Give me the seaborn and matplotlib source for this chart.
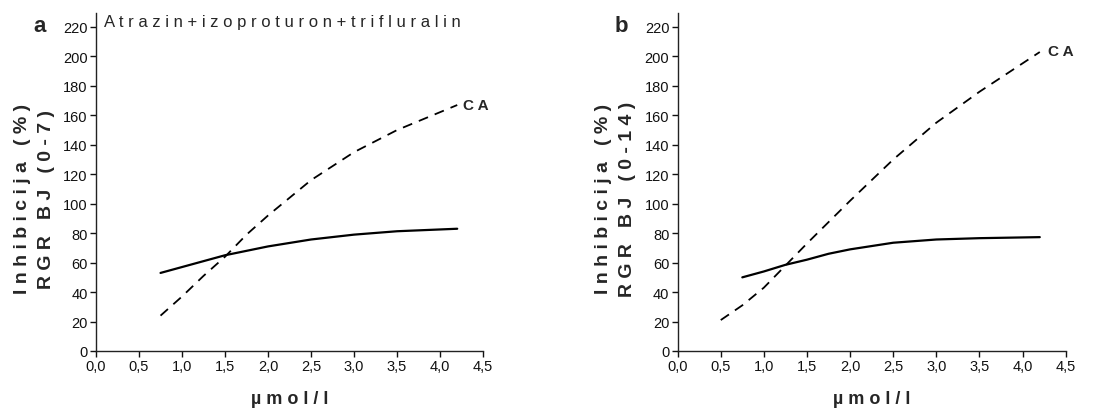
import matplotlib
matplotlib.use("Agg")
import matplotlib.pyplot as plt
import seaborn as sns
import pandas as pd

# ---- data ----
conc_a = [0.75, 1.0, 1.25, 1.5, 1.75, 2.0, 2.5, 3.0, 3.5, 4.2]
mix_a = [53, 57, 61, 65, 68, 71, 75.7, 79, 81.3, 83]
ca_a = [24, 37, 51, 64, 79, 92, 116, 135, 150, 167]

conc_b_mix = [0.75, 1.0, 1.25, 1.5, 1.75, 2.0, 2.5, 3.0, 3.5, 4.2]
mix_b = [50, 54, 58.5, 62, 66, 69, 73.5, 75.7, 76.6, 77.3]
conc_b_ca = [0.5, 0.75, 1.0, 1.5, 2.0, 2.5, 3.0, 3.5, 4.2]
ca_b = [21, 31, 43, 73, 102, 130, 155, 176, 203]

x_ticks = [0.0, 0.5, 1.0, 1.5, 2.0, 2.5, 3.0, 3.5, 4.0, 4.5]
x_ticklabels = ["0,0", "0,5", "1,0", "1,5", "2,0", "2,5", "3,0", "3,5", "4,0", "4,5"]
y_ticks = list(range(0, 221, 20))

title_a = "Atrazin+izoproturon+trifluralin"
ylabels = ["Inhibicija (%)\nRGR BJ (0-7)", "Inhibicija (%)\nRGR BJ (0-14)"]
xlabel = "µmol/l"
panel_letters = ["a", "b"]

sns.set_style("ticks")
plt.rcParams["font.family"] = ["Liberation Sans", "DejaVu Sans"]

fig = plt.figure(figsize=(11.14, 4.10), dpi=100)
ax_a = fig.add_axes([0.0862, 0.1415, 0.3474, 0.8244])
ax_b = fig.add_axes([0.6083, 0.1415, 0.3483, 0.8244])

df_a_mix = pd.DataFrame({"x": conc_a, "y": mix_a})
df_a_ca = pd.DataFrame({"x": conc_a, "y": ca_a})
df_b_mix = pd.DataFrame({"x": conc_b_mix, "y": mix_b})
df_b_ca = pd.DataFrame({"x": conc_b_ca, "y": ca_b})

for ax, dmix, dca, yl, letter in [
    (ax_a, df_a_mix, df_a_ca, ylabels[0], panel_letters[0]),
    (ax_b, df_b_mix, df_b_ca, ylabels[1], panel_letters[1]),
]:
    sns.lineplot(data=dmix, x="x", y="y", ax=ax, color="black", lw=1.6)
    sns.lineplot(data=dca, x="x", y="y", ax=ax, color="black", lw=1.3)
    ax.lines[-1].set_dashes((5.5, 4))
    ax.set_xlim(0, 4.5)
    ax.set_ylim(0, 229.5)
    ax.set_xticks(x_ticks)
    ax.set_xticklabels(x_ticklabels)
    ax.set_yticks(y_ticks)
    ax.tick_params(axis="both", labelsize=10.5, length=4, width=1, colors="#111111",
                   direction="out", pad=2)
    for s in ["top", "right"]:
        ax.spines[s].set_visible(False)
    for s in ["left", "bottom"]:
        ax.spines[s].set_linewidth(1.0)
        ax.spines[s].set_color("#222222")
    ax.set_xlabel(" ".join(list(xlabel)), fontsize=13, fontweight="bold", labelpad=12)
    ax.set_ylabel("")
    l1, l2 = yl.split("\n")
    ax.text(-0.191, 0.452, " ".join(list(l1)), transform=ax.transAxes, rotation=90,
            ha="center", va="center", fontsize=14, fontweight="bold")
    ax.text(-0.128, 0.452, " ".join(list(l2)), transform=ax.transAxes, rotation=90,
            ha="center", va="center", fontsize=14, fontweight="bold")
    ax.text(-0.145, 0.962, letter, transform=ax.transAxes, ha="center", va="center",
            fontsize=16, fontweight="bold")

ax_a.text(4.27, 167, "C A", fontsize=11, fontweight="bold", ha="left", va="center")
ax_b.text(4.3, 204, "C A", fontsize=11, fontweight="bold", ha="left", va="center")
ax_a.text(0.02, 0.975, " ".join(list(title_a)), transform=ax_a.transAxes,
          ha="left", va="center", fontsize=12)

fig.savefig("out.png", dpi=100)
